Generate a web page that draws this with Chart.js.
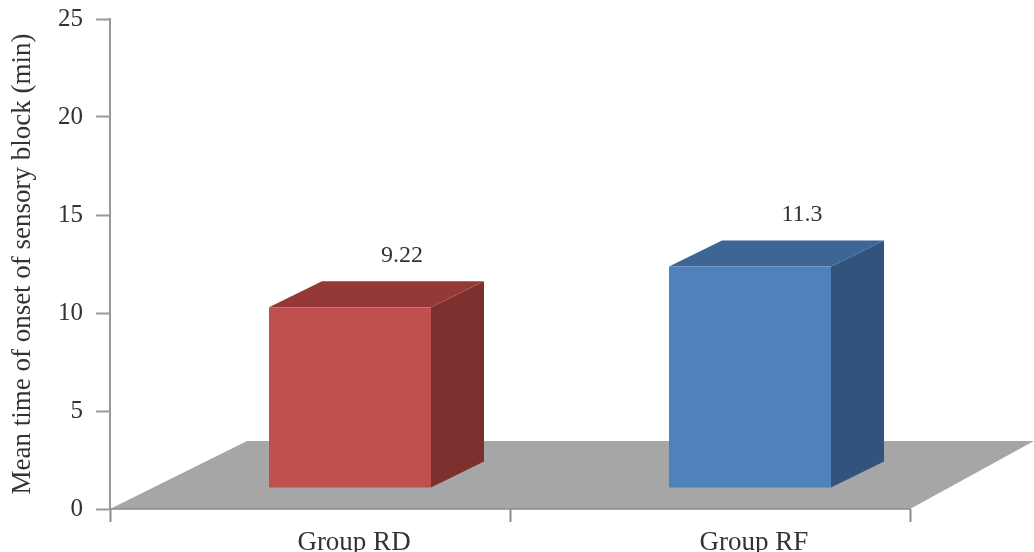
<!DOCTYPE html>
<html>
<head>
<meta charset="utf-8">
<script src="https://cdn.jsdelivr.net/npm/chart.js@4.4.1/dist/chart.umd.min.js"></script>
<style>
  html, body { margin: 0; padding: 0; background: #fff; }
  #wrap { width: 1034px; height: 552px; }
</style>
</head>
<body>
<div id="wrap"><canvas id="myChart" width="1034" height="552"></canvas></div>
<script>
var groups = ['Group RD', 'Group RF']
var onsetTimes = [9.22, 11.3]
var valueLabels = ['9.22', '11.3']
var yTicks = [0, 5, 10, 15, 20, 25]

var frontColors = ['#c0504d', '#4f81bd']
var sideColors = ['#7e302e', '#32537c']
var topColors = ['#943937', '#3d6696']

// fake 3d: bar front is pushed into the floor, box has some depth
var shift = { x: 40, y: -21 }
var depth = { x: 53, y: -26 }

var box3d = {
  id: 'box3d',
  beforeDatasetsDraw: function (chart) {
    var ctx = chart.ctx
    var a = chart.chartArea
    ctx.save()
    ctx.fillStyle = '#a6a6a6'
    ctx.beginPath()
    ctx.moveTo(a.left, a.bottom)
    ctx.lineTo(a.right, a.bottom)
    ctx.lineTo(a.right + 124, a.bottom - 68)
    ctx.lineTo(a.left + 137, a.bottom - 68)
    ctx.closePath()
    ctx.fill()
    ctx.strokeStyle = '#8c8c8c'
    ctx.lineWidth = 1.5
    ctx.beginPath()
    ctx.moveTo(a.left, a.bottom)
    ctx.lineTo(a.right, a.bottom)
    ctx.stroke()
    ctx.restore()
  },
  afterDatasetsDraw: function (chart) {
    var ctx = chart.ctx
    var bars = chart.getDatasetMeta(0).data
    ctx.save()
    bars.forEach(function (bar, i) {
      var p = bar.getProps(['x', 'y', 'base', 'width'], true)
      var l = p.x - p.width / 2 + shift.x
      var r = p.x + p.width / 2 + shift.x
      var t = p.y + shift.y
      var b = p.base + shift.y

      // side
      ctx.fillStyle = sideColors[i]
      ctx.beginPath()
      ctx.moveTo(r, t)
      ctx.lineTo(r + depth.x, t + depth.y)
      ctx.lineTo(r + depth.x, b + depth.y)
      ctx.lineTo(r, b)
      ctx.closePath()
      ctx.fill()

      // top
      ctx.fillStyle = topColors[i]
      ctx.beginPath()
      ctx.moveTo(l, t)
      ctx.lineTo(l + depth.x, t + depth.y)
      ctx.lineTo(r + depth.x, t + depth.y)
      ctx.lineTo(r, t)
      ctx.closePath()
      ctx.fill()

      // front
      ctx.fillStyle = frontColors[i]
      ctx.fillRect(l, t, r - l, b - t)

      // value label
      ctx.fillStyle = '#333'
      ctx.font = '24px "Liberation Serif"'
      ctx.textAlign = 'center'
      ctx.textBaseline = 'middle'
      ctx.fillText(valueLabels[i], p.x + shift.x + 52, t + depth.y - 26)
    })
    ctx.restore()
  }
}

var ctx = document.getElementById('myChart')

var myChart = new Chart(ctx, {
  type: 'bar',
  data: {
    labels: groups,
    datasets: [{
      data: onsetTimes,
      backgroundColor: 'rgba(0,0,0,0)',
      barPercentage: 0.405,
      categoryPercentage: 1
    }]
  },
  options: {
    responsive: false,
    animation: false,
    events: [],
    layout: { padding: { top: 19, right: 124, left: 0, bottom: 0 } },
    plugins: { legend: { display: false }, tooltip: { enabled: false } },
    scales: {
      x: {
        grid: { drawOnChartArea: false, drawTicks: true, tickLength: 13, tickColor: '#8c8c8c', tickWidth: 2 },
        border: { display: false },
        ticks: {
          color: '#333',
          font: { family: 'Liberation Serif', size: 27 },
          labelOffset: 44,
          padding: 5
        },
        afterFit: function (s) { s.height = 43 }
      },
      y: {
        min: 0,
        max: 25,
        afterBuildTicks: function (s) { s.ticks = yTicks.map(function (v) { return { value: v } }) },
        grid: { drawOnChartArea: false, drawTicks: true, tickLength: 14, tickColor: '#999', tickWidth: 2 },
        border: { display: true, color: '#999', width: 2 },
        ticks: {
          color: '#333',
          font: { family: 'Liberation Serif', size: 25 },
          padding: 13
        },
        title: {
          display: true,
          text: 'Mean time of onset of sensory block (min)',
          color: '#333',
          font: { family: 'Liberation Serif', size: 27 },
          padding: { top: 7, bottom: 0 }
        },
        afterFit: function (s) {
          s.width = 110
          s.paddingTop = 0
          s.paddingBottom = 0
        }
      }
    }
  },
  plugins: [box3d]
})
</script>
</body>
</html>
